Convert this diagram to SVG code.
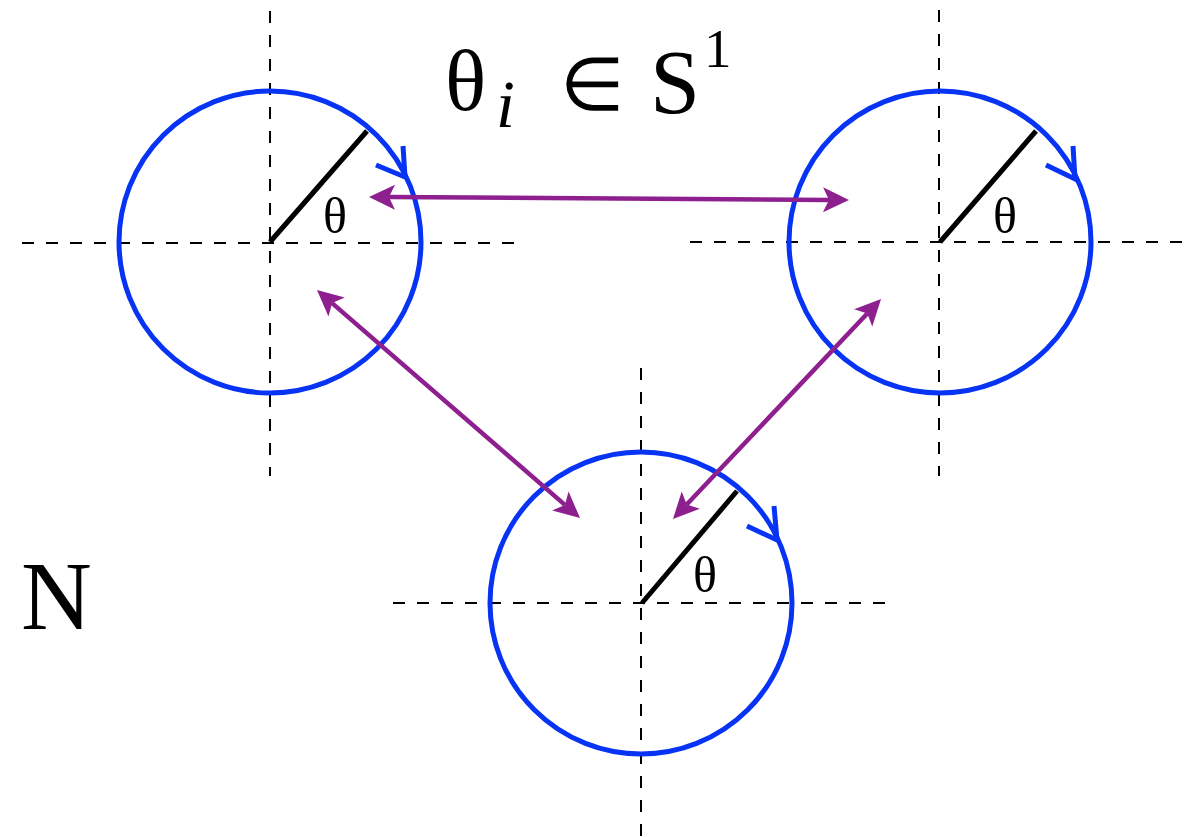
<svg xmlns="http://www.w3.org/2000/svg" width="1203" height="837" viewBox="0 0 1203 837">
<style>
.dash{stroke:#000;stroke-width:2;stroke-dasharray:12 12;fill:none}
.ring{stroke:#0733f5;stroke-width:5;fill:none}
.chev{stroke:#0733f5;stroke-width:5;fill:none;stroke-linejoin:miter;stroke-linecap:butt}
.rad{stroke:#000;stroke-width:5;stroke-linecap:butt}
.conn{stroke:#8e1f8e;stroke-width:4.5;fill:none}
.lbl{font-family:"Liberation Serif","Times New Roman",serif;fill:#000}
</style>
<defs>
<marker id="ah" markerUnits="userSpaceOnUse" viewBox="-8 -14 30 28" markerWidth="30" markerHeight="28" refX="0" refY="0" orient="auto-start-reverse" overflow="visible">
<path d="M20,0 L-6,-12.5 L0,0 L-6,12.5 Z" fill="#8e1f8e"/>
</marker>
</defs>
<rect width="1203" height="837" fill="#fff"/>
<g id="node1">
<line class="dash" x1="270" y1="11" x2="270" y2="476"/>
<line class="dash" x1="22" y1="243" x2="516" y2="243"/>
<circle class="ring" cx="270" cy="242" r="151"/>
<line class="rad" x1="270" y1="242" x2="367" y2="131"/>
<polyline class="chev" points="403,146 405,177 376,165"/>
<text class="lbl" x="335" y="233" font-size="50" text-anchor="middle">θ</text>
</g>
<g id="node2">
<line class="dash" x1="939" y1="10" x2="939" y2="476"/>
<line class="dash" x1="690" y1="242" x2="1185" y2="242"/>
<circle class="ring" cx="940" cy="242" r="151"/>
<line class="rad" x1="940" y1="242" x2="1036" y2="131"/>
<polyline class="chev" points="1073,146 1075,179 1046,165"/>
<text class="lbl" x="1005" y="233" font-size="50" text-anchor="middle">θ</text>
</g>
<g id="node3">
<line class="dash" x1="641" y1="368" x2="641" y2="837"/>
<line class="dash" x1="393" y1="603" x2="888" y2="603"/>
<circle class="ring" cx="641" cy="603" r="151"/>
<line class="rad" x1="642" y1="603" x2="737" y2="491"/>
<polyline class="chev" points="774,506 777,540 747,526"/>
<text class="lbl" x="705" y="592" font-size="50" text-anchor="middle">θ</text>
</g>
<g id="connectors">
<line class="conn" x1="389" y1="197.1" x2="829" y2="199.9" marker-start="url(#ah)" marker-end="url(#ah)"/>
<line class="conn" x1="332.1" y1="303.1" x2="564.9" y2="504.9" marker-start="url(#ah)" marker-end="url(#ah)"/>
<line class="conn" x1="867.3" y1="313.5" x2="686.7" y2="504.5" marker-start="url(#ah)" marker-end="url(#ah)"/>
</g>
<g id="title">
<text class="lbl" x="445" y="110" font-size="86">θ</text>
<text class="lbl" x="496" y="127" font-size="68" font-style="italic">i</text>
<text class="lbl" x="560" y="110" font-size="74">∈</text>
<text class="lbl" x="650" y="113" font-size="90">S</text>
<text class="lbl" x="704" y="67" font-size="55">1</text>
</g>
<g id="label-N">
<text class="lbl" x="21" y="629" font-size="98">N</text>
</g>
</svg>
